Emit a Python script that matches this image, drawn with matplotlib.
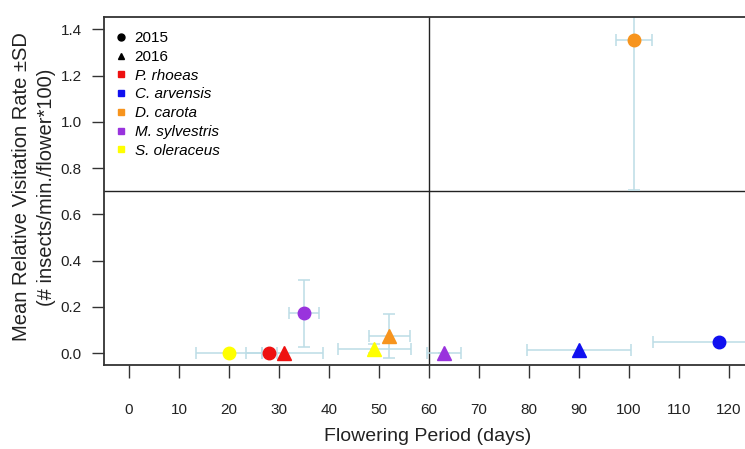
import matplotlib
matplotlib.use("Agg")
import matplotlib.pyplot as plt
from matplotlib.lines import Line2D

plt.rcParams['font.family'] = ['Liberation Sans', 'DejaVu Sans']

# Species, survey year, flowering period (mean, SD) and visitation rate (mean, SD)
species = ["P. rhoeas", "P. rhoeas", "C. arvensis", "C. arvensis", "D. carota",
           "D. carota", "M. sylvestris", "M. sylvestris", "S. oleraceus", "S. oleraceus"]
years = [2015, 2016, 2015, 2016, 2015, 2016, 2015, 2016, 2015, 2016]
period_mean = [28, 31, 118, 90, 101, 52, 35, 63, 20, 49]
period_sd = [1.5, 7.7, 13.3, 10.4, 3.6, 4.1, 3.0, 3.4, 6.6, 7.3]
rate_mean = [0.0, 0.0, 0.05, 0.013, 1.353, 0.075, 0.172, 0.0, 0.0, 0.02]
rate_sd = [0.0, 0.0, 0.0, 0.0, 0.646, 0.095, 0.143, 0.0, 0.0, 0.02]

species_order = ["P. rhoeas", "C. arvensis", "D. carota", "M. sylvestris", "S. oleraceus"]
species_colors = {"P. rhoeas": "#ee1111", "C. arvensis": "#1010f0",
                  "D. carota": "#f7941d", "M. sylvestris": "#9933dd",
                  "S. oleraceus": "#ffff00"}
year_markers = {2015: "o", 2016: "^"}

x_ticks = list(range(0, 121, 10))
y_ticks = [0.0, 0.2, 0.4, 0.6, 0.8, 1.0, 1.2, 1.4]

fig = plt.figure(figsize=(7.45, 4.49), dpi=100)
ax = fig.add_axes([104 / 745, (449 - 365) / 449, 648 / 745, 348 / 449])

err_color = "#bcdde6"
for xm, xs, ym, ys in zip(period_mean, period_sd, rate_mean, rate_sd):
    ax.errorbar(xm, ym, xerr=xs, yerr=ys, fmt="none", ecolor=err_color,
                elinewidth=1.1, capsize=4, capthick=1.1, zorder=2)

for sp, yr, xm, ym in zip(species, years, period_mean, rate_mean):
    ax.plot(xm, ym, marker=year_markers[yr], color=species_colors[sp],
            markersize=9 if yr == 2015 else 10, linestyle="none", zorder=3)

ax.axvline(60, color="#222222", linewidth=1.0, zorder=1)
ax.axhline(0.7, color="#222222", linewidth=1.0, zorder=1)

ax.set_xlim(-5, 124.6)
ax.set_ylim(-0.0506, 1.453)
ax.set_xticks(x_ticks)
ax.set_xticklabels([str(v) for v in x_ticks])
ax.set_yticks(y_ticks)
ax.set_yticklabels([f"{v:.1f}" for v in y_ticks])
ax.tick_params(axis="x", direction="out", length=9, width=1.0, pad=18,
               labelsize=11, colors="#333333", labelcolor="#222222")
ax.tick_params(axis="y", direction="out", length=9, width=1.0, pad=7,
               labelsize=11, colors="#333333", labelcolor="#222222")
for s in ax.spines.values():
    s.set_color("#333333")
    s.set_linewidth(1.3)

ax.set_xlabel("Flowering Period (days)", fontsize=14, labelpad=8, color="#222222")
fig.text(22 / 745, (449 - 187) / 449, "Mean Relative Visitation Rate \u00b1SD",
         rotation=90, ha="center", va="center", fontsize=14.5, color="#222222")
fig.text(47 / 745, (449 - 187) / 449, "(# insects/min./flower*100)",
         rotation=90, ha="center", va="center", fontsize=14.5, color="#222222")

handles = [Line2D([], [], marker=year_markers[y], color="black", linestyle="none",
                  markersize=5) for y in (2015, 2016)]
handles += [Line2D([], [], marker="s", color=species_colors[s], linestyle="none",
                   markersize=5) for s in species_order]
labels = ["2015", "2016"] + species_order
leg = ax.legend(handles, labels, loc="upper left", frameon=False, fontsize=11,
                handlelength=0.8, handletextpad=0.5, labelspacing=0.31,
                borderaxespad=0.3, bbox_to_anchor=(0.0, 0.99))
for t in leg.get_texts()[2:]:
    t.set_fontstyle("italic")

fig.savefig("out.png", dpi=100)
